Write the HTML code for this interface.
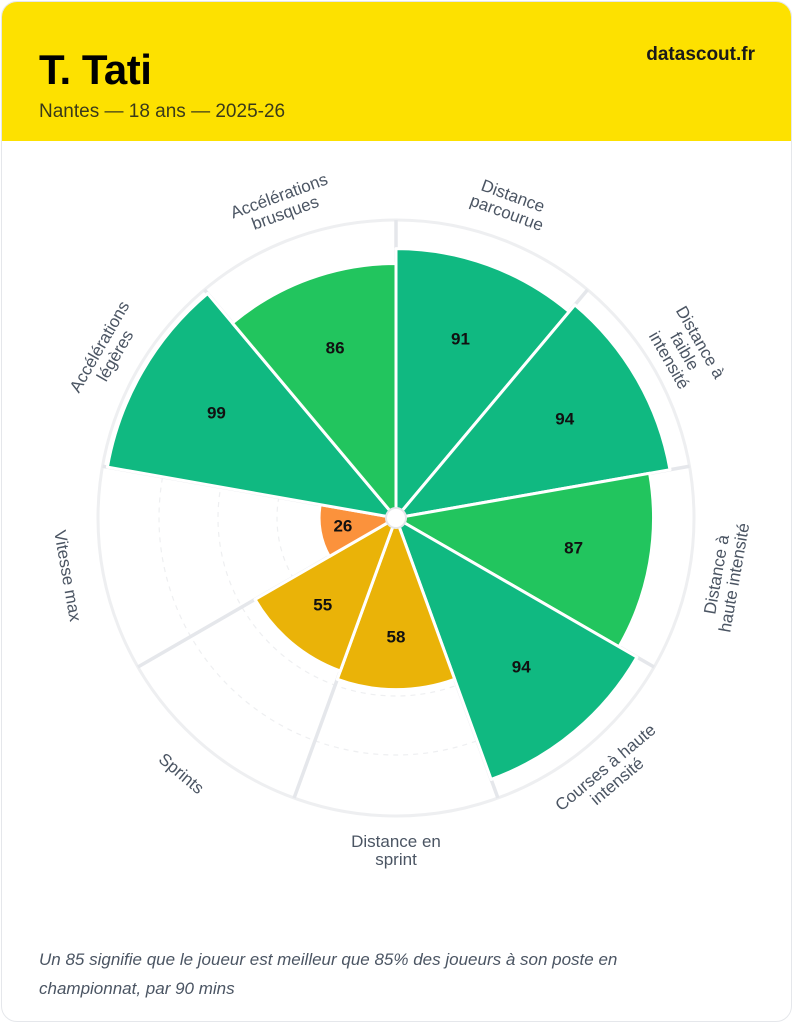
<!DOCTYPE html>
<html><head><meta charset="utf-8"><style>
html,body{margin:0;padding:0;background:#fff;width:794px;height:1024px;overflow:hidden;font-family:"Liberation Sans",sans-serif}
.card{position:absolute;left:1px;top:1px;width:789px;height:1019px;border:1.5px solid #e5e7eb;border-radius:16px;overflow:hidden;background:#fff}
.hdr{position:absolute;left:0;top:0;width:100%;height:139px;background:#fde100}
.t{position:absolute;left:37px;top:44px;font-size:42px;font-weight:bold;color:#000;letter-spacing:-0.5px}
.s{position:absolute;left:37px;top:99px;font-size:19px;color:#3a3a1a}
.d{position:absolute;right:36px;top:42px;font-size:19px;font-weight:bold;color:#1a1a1a}
.f{position:absolute;left:37px;top:943px;width:680px;font-size:17px;line-height:29px;font-style:italic;color:#4b5563}
svg{position:absolute;left:0;top:0}
</style></head><body>
<div class="card">
<div class="hdr"></div>
<div class="t">T. Tati</div>
<div class="s">Nantes — 18 ans — 2025-26</div>
<div class="d">datascout.fr</div>
<div class="f">Un 85 signifie que le joueur est meilleur que 85% des joueurs à son poste en championnat, par 90 mins</div>
</div>
<svg width="794" height="1024" id="sv">
<g id="grid"></g>
<g id="wedges"></g>
<circle cx="396" cy="518" r="10" fill="#fff" stroke="#e5e7eb" stroke-width="2"/>
<g font-family="Liberation Sans, sans-serif" font-size="17" font-weight="bold" fill="#111" text-anchor="middle" dominant-baseline="central">
<text x="460.5" y="339">91</text>
<text x="564.7" y="419">94</text>
<text x="573.6" y="548">87</text>
<text x="521.2" y="667">94</text>
<text x="396" y="637">58</text>
<text x="322.7" y="605">55</text>
<text x="342.9" y="526">26</text>
<text x="216.4" y="413">99</text>
<text x="335.1" y="348">86</text>
</g>
<g font-family="Liberation Sans, sans-serif" font-size="17" fill="#4b5563" text-anchor="middle">
<text transform="translate(510,204) rotate(20)"><tspan x="0" y="-3">Distance</tspan><tspan x="0" y="15">parcourue</tspan></text>
<text transform="translate(685,351) rotate(60)"><tspan x="0" y="-12">Distance à</tspan><tspan x="0" y="6">faible</tspan><tspan x="0" y="24">intensité</tspan></text>
<text transform="translate(725,576) rotate(-80)"><tspan x="0" y="-3">Distance à</tspan><tspan x="0" y="15">haute intensité</tspan></text>
<text transform="translate(611,774) rotate(-40)"><tspan x="0" y="-3">Courses à haute</tspan><tspan x="0" y="15">intensité</tspan></text>
<text transform="translate(396,852) rotate(0)"><tspan x="0" y="-5">Distance en</tspan><tspan x="0" y="13">sprint</tspan></text>
<text transform="translate(181,774) rotate(40)"><tspan x="0" y="5">Sprints</tspan></text>
<text transform="translate(67,576) rotate(80)"><tspan x="0" y="5">Vitesse max</tspan></text>
<text transform="translate(107,351) rotate(-60)"><tspan x="0" y="-3">Accélérations</tspan><tspan x="0" y="15">légères</tspan></text>
<text transform="translate(282,204) rotate(-20)"><tspan x="0" y="-3">Accélérations</tspan><tspan x="0" y="15">brusques</tspan></text>
</g>
</svg>
<script>
(function(){
var cx=396,cy=518,ns="http://www.w3.org/2000/svg";
function P(a,r){var t=a*Math.PI/180;return [cx+r*Math.sin(t),cy-r*Math.cos(t)];}
var g=document.getElementById("grid"),w=document.getElementById("wedges");
function el(p,tag,at){var e=document.createElementNS(ns,tag);for(var k in at)e.setAttribute(k,at[k]);p.appendChild(e);return e;}
el(g,"circle",{cx:cx,cy:cy,r:298,fill:"#fff",stroke:"#eeeff1","stroke-width":3});
[60,119,178,237].forEach(function(r){el(g,"circle",{cx:cx,cy:cy,r:r,fill:"none",stroke:"#eeeff1","stroke-width":1.2,"stroke-dasharray":"5 5"});});
for(var i=0;i<9;i++){var p=P(i*40,298);el(g,"line",{x1:cx,y1:cy,x2:p[0],y2:p[1],stroke:"#e5e7eb","stroke-width":3.5});}
var v=[91,94,87,94,58,55,26,99,86];
var c=["#10b981","#10b981","#22c55e","#10b981","#eab308","#eab308","#fb923c","#10b981","#22c55e"];
for(var i=0;i<9;i++){var r=v[i]*2.96,a=P(i*40,r),b=P(i*40+40,r);
el(w,"path",{d:"M"+cx+","+cy+"L"+a[0]+","+a[1]+"A"+r+","+r+" 0 0 1 "+b[0]+","+b[1]+"Z",fill:c[i],stroke:"#fff","stroke-width":3,"stroke-linejoin":"round"});}
})();
</script>
</body></html>
